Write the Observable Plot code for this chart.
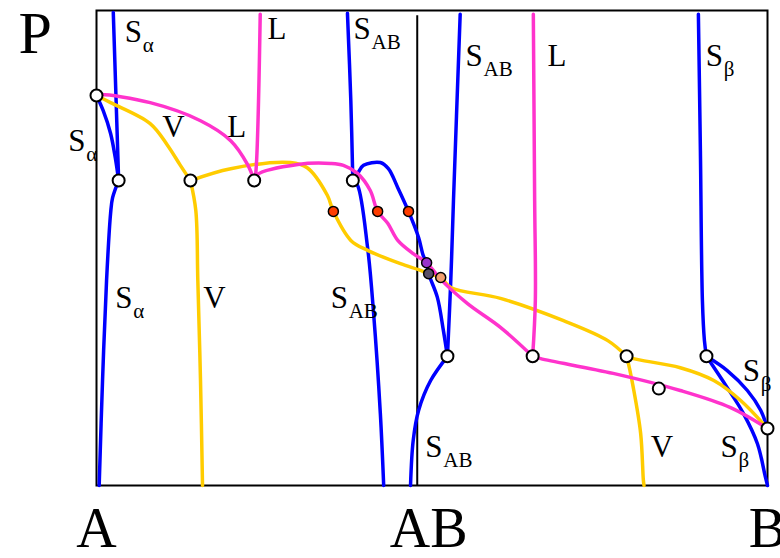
<!DOCTYPE html>
<html>
<head>
<meta charset="utf-8">
<script src="https://cdn.jsdelivr.net/npm/d3@7"></script>
<script src="https://cdn.jsdelivr.net/npm/@observablehq/plot@0.6"></script>
<style>
  body { margin: 0; background: #fff; }
  svg { display: block; }
</style>
</head>
<body>
<div id="chart"></div>
<script>
// Isothermal P–x section of the A–B system with the intermediate compound AB.
// x = mole fraction of B (A = 0, B = 1), P in arbitrary units (0–100).

const compositions = [
  {name: "A", x: 0},
  {name: "AB", x: 0.495},
  {name: "B", x: 1}
];
const abComposition = 0.478;

// --- solid phase boundaries (Sα, SAB, Sβ) ---
const sAlphaUpper = [[0.025, 99.6], [0.029, 82.0], [0.033, 64.2]];
const sAlphaLower = [[0.033, 64.2], [0.024, 60.6], [0.021, 57.3], [0.015, 43.2], [0.009, 22.1], [0.004, 0]];
const sAlphaArc = [[0, 82.1], [0.010, 78.9], [0.021, 74.1], [0.028, 69.0], [0.033, 64.2]];
const sABLeftUpper = [[0.374, 99.4], [0.379, 81.1], [0.382, 64.2]];
const sABLeftLower = [[0.382, 64.2], [0.389, 63.2], [0.404, 50.1], [0.413, 36.2], [0.423, 15.2], [0.428, 0]];
const sABBump = [[0.382, 64.2], [0.390, 65.9], [0.398, 67.4], [0.423, 68.0], [0.435, 66.7], [0.449, 62.7],
  [0.465, 57.7], [0.480, 52.2], [0.487, 48.4], [0.492, 46.9], [0.495, 44.6], [0.508, 39.6], [0.517, 32.6], [0.523, 27.2]];
const sABRightUpper = [[0.542, 99.2], [0.532, 60.0], [0.528, 43.2], [0.523, 27.2]];
const sABRightLower = [[0.523, 27.2], [0.498, 22.1], [0.480, 15.8], [0.472, 9.5], [0.468, 0]];
const sBetaUpper = [[0.897, 99.2], [0.900, 70.5], [0.903, 38.9], [0.906, 30.5], [0.909, 27.2]];
const sBetaArcHigh = [[0.909, 27.2], [0.940, 24.2], [0.970, 20.0], [0.990, 15.8], [1, 12.0]];
const sBetaArcLow = [[0.909, 27.2], [0.940, 20.6], [0.964, 15.2], [0.985, 8.8], [0.997, 1.7], [1, 0]];

// --- liquid (L) ---
const lArcLeft = [[0, 82.1], [0.006, 82.3], [0.080, 80.6], [0.155, 76.8], [0.200, 72.6], [0.225, 67.6], [0.235, 64.2]];
const lUpperLeft = [[0.244, 99.2], [0.237, 65.3], [0.235, 64.2]];
const lMiddle = [[0.235, 64.2], [0.240, 65.5], [0.300, 67.6], [0.349, 67.8], [0.368, 67.4], [0.389, 65.7], [0.408, 62.1],
  [0.419, 57.7], [0.434, 55.2], [0.449, 51.6], [0.472, 48.8], [0.492, 46.9], [0.513, 43.4], [0.553, 38.3], [0.602, 33.3], [0.650, 27.2]];
const lUpperRight = [[0.651, 99.2], [0.653, 60.0], [0.654, 38.9], [0.650, 27.2]];
const lLowerRight = [[0.650, 27.2], [0.662, 26.7], [0.770, 23.6], [0.870, 20.0], [0.945, 16.4], [1, 12.0]];

// --- vapour (V) ---
const vArcLeft = [[0, 82.1], [0.021, 80.6], [0.080, 76.2], [0.106, 71.6], [0.125, 67.4], [0.140, 64.2]];
const vLowerLeft = [[0.140, 64.2], [0.148, 57.9], [0.151, 43.2], [0.155, 22.1], [0.158, 0]];
const vMiddle = [[0.140, 64.2], [0.200, 66.7], [0.289, 68.0], [0.314, 66.9], [0.344, 61.1], [0.353, 57.7], [0.379, 51.6],
  [0.404, 49.5], [0.453, 46.7], [0.483, 45.3], [0.495, 44.6], [0.513, 43.8], [0.528, 41.7], [0.602, 39.4], [0.696, 34.7],
  [0.762, 30.5], [0.790, 27.2]];
const vLowerRight = [[0.790, 27.2], [0.791, 26.7], [0.800, 20.6], [0.811, 10.9], [0.815, 1.1], [0.816, 0]];
const vArcRight = [[0.790, 27.2], [0.800, 26.7], [0.870, 24.8], [0.920, 22.1], [0.960, 17.9], [1, 12.0]];

// invariant (three-phase) points and the coloured special points
const invariantPoints = [[0, 82.1], [0.033, 64.2], [0.140, 64.2], [0.235, 64.2], [0.382, 64.2],
  [0.523, 27.2], [0.650, 27.2], [0.790, 27.2], [0.909, 27.2], [1, 12.0], [0.838, 20.4]];
const redPoints = [[0.353, 57.7], [0.419, 57.7], [0.465, 57.7]];
const purplePoint = [[0.492, 46.9]];
const darkPoint = [[0.495, 44.6]];
const orangePoint = [[0.513, 43.8]];

// phase-field labels: main letter, subscript, position of the letter's baseline
const labels = [
  {x: 0.042, P: 93.3, main: "S", sub: "α"},
  {x: 0.255, P: 94.1, main: "L", sub: ""},
  {x: 0.383, P: 94.1, main: "S", sub: "AB"},
  {x: 0.550, P: 88.4, main: "S", sub: "AB"},
  {x: 0.672, P: 88.4, main: "L", sub: ""},
  {x: 0.908, P: 88.4, main: "S", sub: "β"},
  {x: 0.098, P: 73.3, main: "V", sub: ""},
  {x: 0.195, P: 73.3, main: "L", sub: ""},
  {x: -0.042, P: 70.5, main: "S", sub: "α"},
  {x: 0.028, P: 37.3, main: "S", sub: "α"},
  {x: 0.159, P: 37.3, main: "V", sub: ""},
  {x: 0.349, P: 37.3, main: "S", sub: "AB"},
  {x: 0.490, P: 5.9, main: "S", sub: "AB"},
  {x: 0.826, P: 5.9, main: "V", sub: ""},
  {x: 0.930, P: 5.9, main: "S", sub: "β"},
  {x: 0.963, P: 22.1, main: "S", sub: "β"}
];

const solidCurves = [sAlphaUpper, sAlphaLower, sAlphaArc, sABLeftUpper, sABLeftLower, sABBump,
  sABRightUpper, sABRightLower, sBetaUpper, sBetaArcHigh, sBetaArcLow];
const liquidCurves = [lArcLeft, lUpperLeft, lMiddle, lUpperRight, lLowerRight];
const vapourCurves = [vArcLeft, vLowerLeft, vMiddle, vLowerRight, vArcRight];

const rows = (curves) => curves.flatMap((c, i) => c.map(([x, P]) => ({id: i, x, P})));
const pts = (arr) => arr.map(([x, P]) => ({x, P}));

const serif = "'Liberation Serif', 'Times New Roman', Times, serif";
const lineOpts = {x: "x", y: "P", z: "id", curve: "catmull-rom", strokeWidth: 3.5, strokeLinejoin: "round", strokeLinecap: "round"};

const chart = Plot.plot({
  width: 780,
  height: 558,
  marginLeft: 96,
  marginRight: 13,
  marginTop: 10,
  marginBottom: 73,
  x: {domain: [0, 1], axis: null},
  y: {domain: [0, 100], axis: null},
  style: {fontFamily: serif, background: "#fff", overflow: "visible"},
  marks: [
    Plot.frame({stroke: "#000", strokeWidth: 2}),
    Plot.ruleX([abComposition], {y1: 0, y2: 98.9, stroke: "#000", strokeWidth: 2}),
    Plot.line(rows(solidCurves), {...lineOpts, stroke: "#0000ff"}),
    Plot.line(rows(vapourCurves), {...lineOpts, stroke: "#ffcc00"}),
    Plot.line(rows(liquidCurves), {...lineOpts, stroke: "#ff33cc"}),
    Plot.dot(pts(invariantPoints), {x: "x", y: "P", r: 6, fill: "#fff", stroke: "#000", strokeWidth: 2}),
    Plot.dot(pts(redPoints), {x: "x", y: "P", r: 5, fill: "#ff3d00", stroke: "#000", strokeWidth: 1.5}),
    Plot.dot(pts(purplePoint), {x: "x", y: "P", r: 5, fill: "#9933cc", stroke: "#000", strokeWidth: 1.5}),
    Plot.dot(pts(darkPoint), {x: "x", y: "P", r: 5, fill: "#5a5068", stroke: "#000", strokeWidth: 1.5}),
    Plot.dot(pts(orangePoint), {x: "x", y: "P", r: 5, fill: "#f2a070", stroke: "#000", strokeWidth: 1.5}),
    Plot.text(labels, {x: "x", y: "P", text: "main", textAnchor: "start", lineAnchor: "bottom", fontSize: 31, fill: "#000"}),
    Plot.text(labels, {x: "x", y: "P", text: "sub", textAnchor: "start", lineAnchor: "bottom", fontSize: 21, dx: 18, dy: 10, fill: "#000"}),
    Plot.text(compositions, {x: "x", text: "name", frameAnchor: "bottom", lineAnchor: "bottom", dy: 61, fontSize: 56, fill: "#000"}),
    Plot.text(["P"], {frameAnchor: "top-left", textAnchor: "start", lineAnchor: "bottom", dx: -78, dy: 42, fontSize: 60, fill: "#000"})
  ]
});

document.getElementById("chart").appendChild(chart);
</script>
</body>
</html>
